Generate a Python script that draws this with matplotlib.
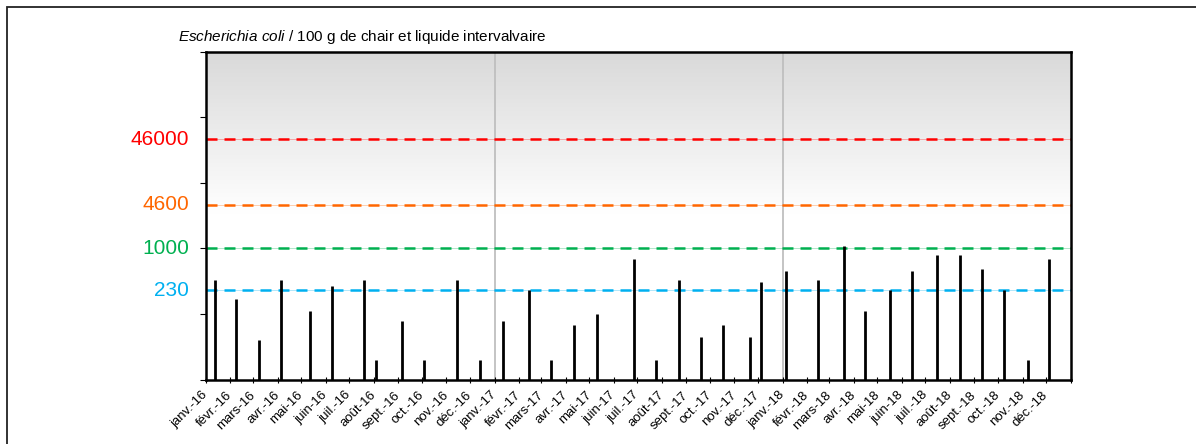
import datetime as dt
import numpy as np
import matplotlib
matplotlib.use('Agg')
import matplotlib.pyplot as plt
from matplotlib.patches import Rectangle

plt.rcParams['font.family'] = ['Liberation Sans', 'DejaVu Sans']
plt.rcParams['mathtext.fontset'] = 'custom'
plt.rcParams['mathtext.it'] = 'Liberation Sans:italic'
plt.rcParams['mathtext.rm'] = 'Liberation Sans'

# sampling dates and E. coli results (per 100 g)
sample_dates = [
    "2016-01-13", "2016-02-09", "2016-03-09", "2016-04-06", "2016-05-12", "2016-06-09",
    "2016-07-19", "2016-08-04", "2016-09-06", "2016-10-04", "2016-11-15", "2016-12-14",
    "2017-01-12", "2017-02-14", "2017-03-14", "2017-04-12", "2017-05-11", "2017-06-27",
    "2017-07-25", "2017-08-23", "2017-09-20", "2017-10-18", "2017-11-21", "2017-12-05",
    "2018-01-05", "2018-02-15", "2018-03-20", "2018-04-16", "2018-05-17", "2018-06-14",
    "2018-07-16", "2018-08-14", "2018-09-11", "2018-10-09", "2018-11-08", "2018-12-05",
]
ecoli = [
    330, 170, 40, 330, 110, 270, 330, 20, 78, 20, 330, 20,
    78, 230, 20, 68, 100, 700, 20, 330, 45, 68, 45, 310,
    450, 330, 1100, 110, 230, 450, 780, 780, 490, 230, 20, 700,
]

thresholds = [46000, 4600, 1000, 230]
threshold_colors = ["#ff0000", "#ff6600", "#00b050", "#00b0f0"]

month_names = ["janv.", "févr.", "mars", "avr.", "mai", "juin",
               "juil.", "août", "sept.", "oct.", "nov.", "déc."]
year_marks = ["2017-01-01", "2018-01-01"]

W, H = 1196, 444
fig = plt.figure(figsize=(W / 100, H / 100), dpi=100)

# outer frame
fig.patches.append(Rectangle((6.7 / W, -0.1), 1.2, 1 - 7 / H + 0.1,
                             transform=fig.transFigure, fill=False,
                             edgecolor="#222222", lw=1.3))

x0, x1, ytop, ybot = 205.7, 1070.7, 51.7, 379.5
pos = [x0 / W, 1 - ybot / H, (x1 - x0) / W, (ybot - ytop) / H]

# gradient background in its own axes
bg = fig.add_axes(pos, zorder=0)
grad = np.ones((300, 1))
n = 150
grad[:n, 0] = np.linspace(217, 255, n) / 255
bg.imshow(np.dstack([grad, grad, grad]), aspect='auto', extent=[0, 1, 0, 1])
bg.set_axis_off()

ax = fig.add_axes(pos, zorder=1)
ax.set_facecolor('none')

dates = [dt.datetime.strptime(d, "%Y-%m-%d") for d in sample_dates]

for d in year_marks:
    ax.axvline(dt.datetime.strptime(d, "%Y-%m-%d"), color="#bfbfbf", lw=1.3, zorder=1)

for val, col in zip(thresholds, threshold_colors):
    ax.axhline(val, color=col, lw=0.6, alpha=0.35, zorder=2)
    ax.axhline(val, color=col, lw=1.8, dashes=(4.4, 2.8), zorder=2)
    ax.text(-0.019, val, str(val), transform=ax.get_yaxis_transform(),
            ha='right', va='center', color=col, fontsize=15)

ax.vlines(dates, 10, ecoli, color='black', lw=2, zorder=3)

ax.set_yscale('log')
ax.set_ylim(10, 1e6)
ax.set_yticks([10, 100, 1000, 1e4, 1e5, 1e6])
ax.yaxis.set_minor_locator(matplotlib.ticker.NullLocator())
ax.set_yticklabels([])

ax.set_xlim(dt.datetime(2016, 1, 1), dt.datetime(2019, 1, 1))
ticks = [dt.datetime(2016 + i // 12, i % 12 + 1, 1) for i in range(37)]
labels = [f"{month_names[t.month - 1]}-{t.year % 100}" for t in ticks[:-1]] + [""]
ax.set_xticks(ticks)
ax.set_xticklabels(labels, rotation=45, ha='right', va='center',
                   rotation_mode='anchor', fontsize=9.5)
ax.tick_params(axis='x', direction='inout', length=4, width=0.8, pad=8)
ax.tick_params(axis='y', direction='out', length=4, width=0.8)

for s in ax.spines.values():
    s.set_linewidth(1.8)

fig.text(178 / W, 1 - 41 / H,
         r"$\it{Escherichia\ coli}$ / 100 g de chair et liquide intervalvaire",
         ha='left', va='baseline', fontsize=11)

fig.savefig("out.png", dpi=100)
